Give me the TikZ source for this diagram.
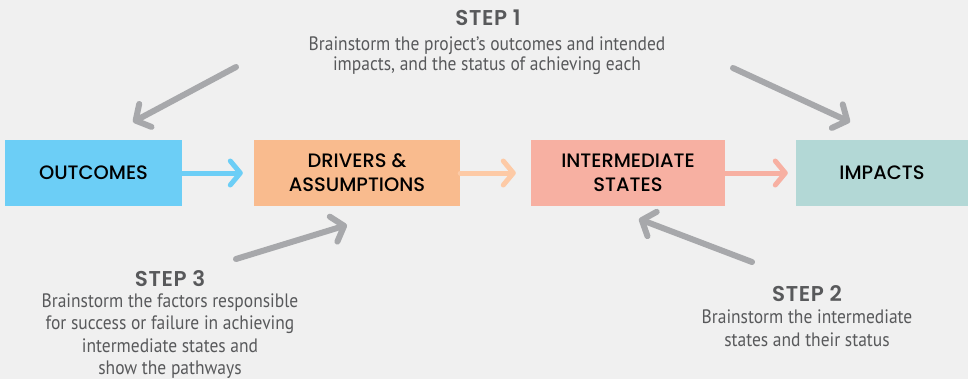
\documentclass[tikz,border=0pt]{standalone}
\usepackage{fontspec}
\setmainfont{PT Sans}[FakeStretch=0.9]
\newfontfamily\headfont{Poppins SemiBold}[LetterSpace=3]
\newfontfamily\labelfont{Poppins Medium}
\usepackage{xcolor}
\usepackage{tikz}
\usetikzlibrary{shapes.geometric, arrows.meta}

\definecolor{bggrey}{HTML}{F0F0F0}
\definecolor{outblue}{HTML}{6CCEF6}
\definecolor{drvpeach}{HTML}{F9BB8E}
\definecolor{drvarrow}{HTML}{FDCAA6}
\definecolor{intsalmon}{HTML}{F7B0A2}
\definecolor{impteal}{HTML}{B3D8D6}
\definecolor{arrgrey}{HTML}{A7A8AB}
\definecolor{txtgrey}{HTML}{58595B}

\tikzset{
    stagebox/.style={rectangle, inner sep=0pt, minimum height=66bp,
        align=center, text=black, font=\labelfont\fontsize{19.5}{24}\selectfont},
    flowarrow/.style={line width=5bp, line cap=round,
        -{Straight Barb[length=10bp, width=24bp, line cap=round, line join=round]}},
    steparrow/.style={arrgrey, line width=6bp, line cap=round,
        -{Straight Barb[length=11bp, width=26bp, line cap=round, line join=round]}},
    stephead/.style={text=txtgrey, font=\headfont\fontsize{21.5}{24}\selectfont},
    stepbody/.style={text=txtgrey, align=center, inner sep=0pt}
}

\begin{document}
\begin{tikzpicture}[x=1bp, y=-1bp]
        \fill[bggrey] (0,0) rectangle (968,379);
        \useasboundingbox (0,0) rectangle (968,379);

        % stages
        \node[stagebox, fill=outblue,   minimum width=177bp] (out) at (93.5,173) {OUTCOMES};
        \node[stagebox, fill=drvpeach,  minimum width=206bp] (drv) at (357,173) {DRIVERS \&\\ASSUMPTIONS};
        \node[stagebox, fill=intsalmon, minimum width=194bp] (int) at (628,173) {INTERMEDIATE\\STATES};
        \node[stagebox, fill=impteal,   minimum width=172bp] (imp) at (882,173) {IMPACTS};

        \draw[flowarrow, outblue]   (out) -- (drv) [shorten >=11bp];
        \draw[flowarrow, drvarrow]  (drv) -- (int) [shorten >=15bp];
        \draw[flowarrow, intsalmon] (int) -- (imp) [shorten >=8bp];

        % steps
        \node[stephead] (step1) at (488,18) {STEP 1};
        \node[stepbody, font=\fontsize{19.5}{20}\selectfont] (step1txt) at (487,55.5)
            {Brainstorm the project’s outcomes and intended\\impacts, and the status of achieving each};

        \node[stephead] (step2) at (807,294) {STEP 2};
        \node[stepbody, font=\fontsize{19.5}{23}\selectfont] (step2txt) at (807,328)
            {Brainstorm the intermediate\\states and their status};

        \node[stephead] (step3) at (170,279) {STEP 3};
        \node[stepbody, font=\fontsize{19.5}{22.3}\selectfont] (step3txt) at (170,336)
            {Brainstorm the factors responsible\\for success or failure in achieving\\intermediate states and\\show the pathways};

        \coordinate (s1l) at (236,67);
        \coordinate (s1r) at (733,68);
        \coordinate (s2)  at (752,262);
        \coordinate (s3)  at (236,259);
        \coordinate (outtop) at (133,122);
        \coordinate (imptop) at (850,122);
        \coordinate (intbot) at (639,219);
        \coordinate (drvbot) at (347,225);

        \draw[steparrow] (s1l) -- (outtop);
        \draw[steparrow] (s1r) -- (imptop);
        \draw[steparrow] (s2) -- (intbot);
        \draw[steparrow] (s3) -- (drvbot);
\end{tikzpicture}
\end{document}
